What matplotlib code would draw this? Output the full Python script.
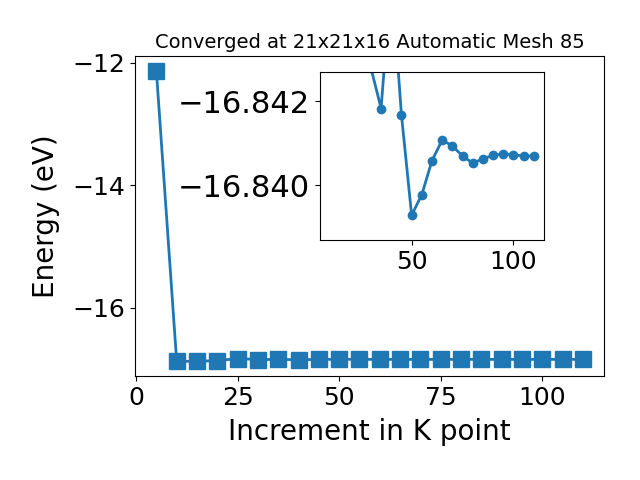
import numpy as np
import matplotlib
matplotlib.use('Agg')
import matplotlib.pyplot as plt

# k-point increments and total energies (eV)
kpoints = [5, 10, 15, 20, 25, 30, 35, 40, 45, 50, 55, 60, 65, 70, 75,
           80, 85, 90, 95, 100, 105, 110]
energy = [-12.126, -16.872, -16.872, -16.860, -16.828, -16.8428, -16.84183,
          -16.845, -16.84168, -16.83929, -16.83978, -16.84059, -16.84108,
          -16.84094, -16.84070, -16.84053, -16.84063, -16.84072, -16.84075,
          -16.84073, -16.84070, -16.84070]

title = 'Converged at 21x21x16 Automatic Mesh 85'

fig = plt.figure(figsize=(6.4, 4.8), dpi=100)
ax = fig.add_subplot(111)
fig.subplots_adjust(left=0.211, right=0.944, top=0.883, bottom=0.217)

ax.plot(kpoints, energy, marker='s', markersize=11, linewidth=2)
ax.set_title(title, fontsize=14)
ax.set_xlabel('Increment in K point', fontsize=20, labelpad=6)
ax.set_ylabel('Energy (eV)', fontsize=20, labelpad=9)
ax.set_xticks([0, 25, 50, 75, 100])
ax.set_yticks([-12, -14, -16])
ax.tick_params(labelsize=18)

# zoomed inset
axin = fig.add_axes([0.5, 0.5, 0.35, 0.35])
axin.plot(kpoints[5:], energy[5:], marker='o', linewidth=2)
axin.set_xlim(5, 115)
axin.set_ylim(-16.8387, -16.8427)
axin.set_yticks([-16.842, -16.840])
axin.set_xticks([50, 100])
axin.tick_params(axis='x', labelsize=18)
axin.tick_params(axis='y', labelsize=22)

fig.savefig('out.png')
